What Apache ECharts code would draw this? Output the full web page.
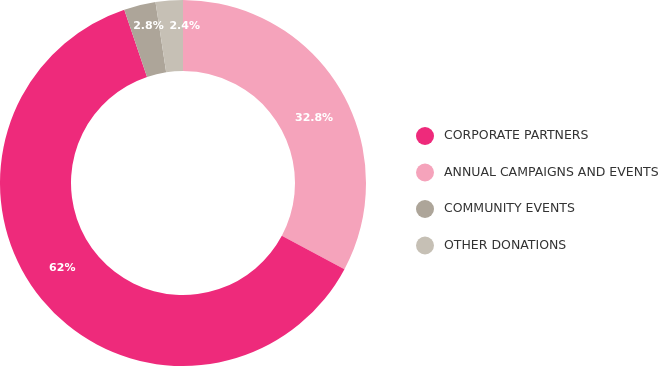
<!DOCTYPE html>
<html>
<head>
<meta charset="utf-8">
<script src="https://cdn.jsdelivr.net/npm/echarts@6/dist/echarts.min.js"></script>
<style>html,body{margin:0;padding:0;background:#fff;}#c{width:662px;height:368px;}</style>
</head>
<body>
<div id="c"></div>
<script>
const categories = ['ANNUAL CAMPAIGNS AND EVENTS', 'CORPORATE PARTNERS', 'COMMUNITY EVENTS', 'OTHER DONATIONS'];
const values = [32.8, 62, 2.8, 2.4];
const labels = ['32.8%', '62%', '2.8%', '2.4%'];
const colors = ['#F5A3BB', '#EE2A7B', '#ADA599', '#C6C0B5'];
const legendOrder = ['CORPORATE PARTNERS', 'ANNUAL CAMPAIGNS AND EVENTS', 'COMMUNITY EVENTS', 'OTHER DONATIONS'];
const labelShift = [[2, 13], [-6, -12], [1, -11], [13, -7]];

const chart = echarts.init(document.getElementById('c'));
chart.setOption({
  animation: false,
  legend: {
    orient: 'vertical',
    left: 411,
    top: 122,
    itemWidth: 18,
    itemHeight: 18,
    itemGap: 18.5,
    icon: 'circle',
    data: legendOrder,
    textStyle: { fontFamily: 'DejaVu Sans', fontSize: 12.5, color: '#333', padding: [0, 0, 0, 5] },
    selectedMode: false
  },
  series: [{
    type: 'pie',
    center: [183, 183],
    radius: [112, 183],
    startAngle: 90,
    clockwise: true,
    avoidLabelOverlap: false,
    label: {
      show: true,
      position: 'inside',
      color: '#fff',
      fontWeight: 'bold',
      fontSize: 11,
      fontFamily: 'DejaVu Sans',
      formatter: p => labels[p.dataIndex]
    },
    labelLine: { show: false },
    labelLayout: p => ({ dx: labelShift[p.dataIndex][0], dy: labelShift[p.dataIndex][1] }),
    emphasis: { disabled: true },
    data: categories.map((n, i) => ({ name: n, value: values[i], itemStyle: { color: colors[i] } }))
  }]
});
</script>
</body>
</html>
